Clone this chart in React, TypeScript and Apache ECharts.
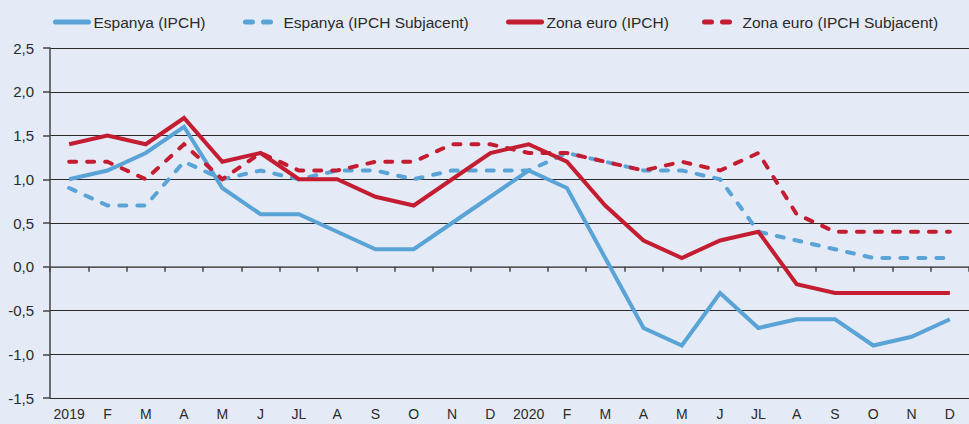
import React, { useEffect, useRef } from "react";
import * as echarts from "echarts";

const categories = ["2019", "F", "M", "A", "M", "J", "JL", "A", "S", "O", "N", "D", "2020", "F", "M", "A", "M", "J", "JL", "A", "S", "O", "N", "D"];

const espanyaIPCH = [1.0, 1.1, 1.3, 1.6, 0.9, 0.6, 0.6, 0.4, 0.2, 0.2, 0.5, 0.8, 1.1, 0.9, 0.1, -0.7, -0.9, -0.3, -0.7, -0.6, -0.6, -0.9, -0.8, -0.6];
const espanyaSubj = [0.9, 0.7, 0.7, 1.2, 1.0, 1.1, 1.0, 1.1, 1.1, 1.0, 1.1, 1.1, 1.1, 1.3, 1.2, 1.1, 1.1, 1.0, 0.4, 0.3, 0.2, 0.1, 0.1, 0.1];
const euroIPCH = [1.4, 1.5, 1.4, 1.7, 1.2, 1.3, 1.0, 1.0, 0.8, 0.7, 1.0, 1.3, 1.4, 1.2, 0.7, 0.3, 0.1, 0.3, 0.4, -0.2, -0.3, -0.3, -0.3, -0.3];
const euroSubj = [1.2, 1.2, 1.0, 1.4, 1.0, 1.3, 1.1, 1.1, 1.2, 1.2, 1.4, 1.4, 1.3, 1.3, 1.2, 1.1, 1.2, 1.1, 1.3, 0.6, 0.4, 0.4, 0.4, 0.4];

const seriesNames = ["Espanya (IPCH)", "Espanya (IPCH Subjacent)", "Zona euro (IPCH)", "Zona euro (IPCH Subjacent)"];

const BLUE = "#5aa3d6";
const RED = "#c41d31";
const BG = "#e4ebf6";
const FONT = "'Liberation Sans', Arial, sans-serif";

export default function App() {
  const ref = useRef<HTMLDivElement>(null);
  useEffect(() => {
    if (!ref.current) return;
    const chart = echarts.init(ref.current, undefined, { renderer: "svg" });
    const mk = (name: string, data: number[], color: string, dashed: boolean) => ({
      name,
      type: "line",
      data,
      symbol: "none",
      showSymbol: false,
      lineStyle: {
        color,
        width: 4,
        type: dashed ? [7, 11] : "solid",
        cap: dashed ? "round" : "butt",
        join: "miter",
      },
      itemStyle: { color },
    });
    const legendLefts = [53, 243, 506, 702];
    chart.setOption({
      animation: false,
      backgroundColor: BG,
      textStyle: { fontFamily: FONT },
      legend: seriesNames.map((n, i) => ({
        data: [n],
        left: legendLefts[i],
        top: 14,
        padding: 0,
        itemWidth: 33,
        itemHeight: 14,
        itemGap: 0,
        itemTextGap: 9,
        itemStyle: { opacity: 0 },
        lineStyle: { width: 5, cap: "round" },
        textStyle: { fontFamily: FONT, fontSize: 15.5, color: "#2a2a2a" },
      })),
      grid: { left: 50, right: 0, top: 48, bottom: 26 },
      xAxis: {
        type: "category",
        data: categories,
        boundaryGap: true,
        axisLine: { show: true, lineStyle: { color: "#666", width: 1.5 } },
        axisTick: { show: true, inside: false, length: 5, interval: 0, lineStyle: { color: "#444", width: 1.5 } },
        axisLabel: { fontFamily: FONT, fontSize: 14, color: "#2a2a2a", margin: 9, interval: 0 },
        splitLine: { show: false },
      },
      yAxis: {
        type: "value",
        min: -1.5,
        max: 2.5,
        interval: 0.5,
        axisLine: { show: true, lineStyle: { color: "#444", width: 1.5 } },
        axisTick: { show: true, length: 7, lineStyle: { color: "#444", width: 1.5 } },
        axisLabel: {
          fontFamily: FONT,
          fontSize: 15,
          color: "#2a2a2a",
          margin: 16,
          formatter: (v: number) => v.toFixed(1).replace(".", ","),
        },
        splitLine: { show: true, lineStyle: { color: "#2a2a2a", width: 1.2 } },
      },
      series: [
        mk(seriesNames[0], espanyaIPCH, BLUE, false),
        mk(seriesNames[1], espanyaSubj, BLUE, true),
        mk(seriesNames[2], euroIPCH, RED, false),
        mk(seriesNames[3], euroSubj, RED, true),
      ],
    });
    return () => chart.dispose();
  }, []);
  return (
    <div
      ref={ref}
      style={{ position: "fixed", left: 0, top: 0, width: 969, height: 424, background: BG }}
    />
  );
}
